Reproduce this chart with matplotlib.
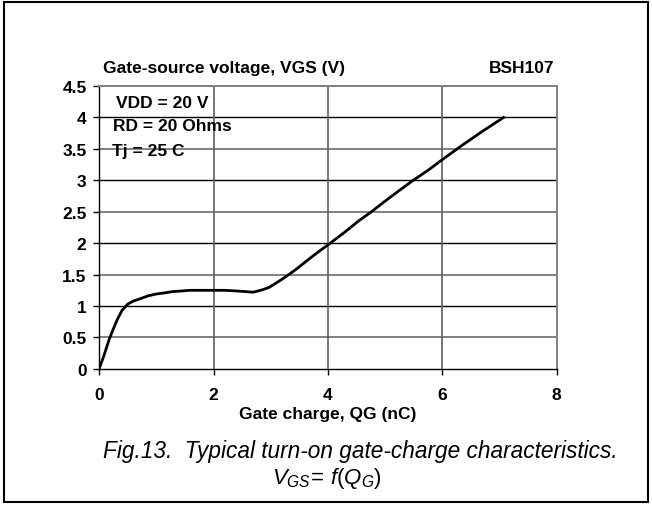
import numpy as np
import matplotlib
matplotlib.use('Agg')
import matplotlib.pyplot as plt
from matplotlib.patches import Rectangle

plt.rcParams['font.family'] = ['Liberation Sans', 'DejaVu Sans']
plt.rcParams['mathtext.fontset'] = 'custom'
plt.rcParams['mathtext.it'] = 'Liberation Sans:italic'
plt.rcParams['mathtext.rm'] = 'Liberation Sans'

# gate charge (nC) and gate-source voltage (V)
qg = [0.0, 0.08, 0.18, 0.26, 0.32, 0.40, 0.50, 0.60, 0.70, 0.85, 0.99, 1.15, 1.29, 1.45,
      1.58, 1.75, 2.0, 2.2, 2.4, 2.55, 2.69, 2.78, 2.86, 2.98, 3.10, 3.22, 3.33, 3.48,
      3.63, 3.80, 4.04, 4.30, 4.53, 4.76, 5.00, 5.25, 5.49, 5.75, 6.0, 6.35, 6.70, 7.07]
vgs = [0.0, 0.20, 0.48, 0.66, 0.79, 0.93, 1.03, 1.08, 1.11, 1.16, 1.19, 1.21, 1.23, 1.24,
       1.25, 1.25, 1.25, 1.25, 1.24, 1.23, 1.22, 1.24, 1.26, 1.30, 1.37, 1.44, 1.51, 1.61,
       1.72, 1.84, 2.00, 2.18, 2.35, 2.50, 2.67, 2.84, 3.00, 3.16, 3.33, 3.56, 3.78, 4.00]

x_ticks = [0, 2, 4, 6, 8]
y_ticks = [0, 0.5, 1, 1.5, 2, 2.5, 3, 3.5, 4, 4.5]
y_labels = ['0', '0.5', '1', '1.5', '2', '2.5', '3', '3.5', '4', '4.5']

fs = 12.5  # bold chart text

fig = plt.figure(figsize=(6.52, 5.06), dpi=100)
fig.patches.append(Rectangle((0.006, 0.006), 0.988, 0.988, transform=fig.transFigure,
                             fill=False, edgecolor='black', linewidth=1.5))

ax = fig.add_axes([0.152, 0.269, 0.702, 0.559])
ax.set_xlim(0, 8)
ax.set_ylim(0, 4.5)

# grid: integer volts black, half volts grey
for y in y_ticks[1:]:
    col = 'black' if float(y).is_integer() else '#808080'
    ax.axhline(y, color=col, linewidth=1.0 if col == 'black' else 1.4, zorder=1)
for x in x_ticks[1:-1]:
    ax.axvline(x, color='#606060', linewidth=1.2, zorder=1)

ax.plot(qg, vgs, color='black', linewidth=2.0, zorder=3)

for side in ['top', 'right']:
    ax.spines[side].set_color('#808080')
    ax.spines[side].set_linewidth(1.4)
for side in ['left', 'bottom']:
    ax.spines[side].set_color('black')
    ax.spines[side].set_linewidth(1.0)

ax.set_xticks(x_ticks)
ax.set_yticks(y_ticks)
ax.set_yticklabels(y_labels)
ax.tick_params(direction='out', length=4, width=1, labelsize=fs, pad=5)
for lab in ax.get_xticklabels() + ax.get_yticklabels():
    lab.set_fontweight('bold')
ax.tick_params(axis='x', pad=9)

ax.set_xlabel('Gate charge, QG (nC)', fontsize=fs, fontweight='bold', labelpad=3)

fig.text(0.158, 0.864, 'Gate-source voltage, VGS (V)', fontsize=fs, fontweight='bold',
         ha='left', va='center')
fig.text(0.850, 0.864, 'BSH107', fontsize=fs, fontweight='bold', ha='right', va='center')

ax.text(0.30, 4.24, 'VDD = 20 V', fontsize=fs, fontweight='bold', ha='left', va='center',
        zorder=4)
ax.text(0.25, 3.88, 'RD = 20 Ohms', fontsize=fs, fontweight='bold', ha='left', va='center',
        zorder=4)
ax.text(0.23, 3.48, 'Tj = 25 C', fontsize=fs, fontweight='bold', ha='left', va='center',
        zorder=4)

fig.text(0.158, 0.107, 'Fig.13.  Typical turn-on gate-charge characteristics.',
         fontsize=16.3, style='italic', ha='left', va='center')
fig.text(0.502, 0.054, r'$V_{GS}\!=\,f(Q_G)$', fontsize=16, ha='center', va='center')

fig.savefig('out.png', dpi=100)
